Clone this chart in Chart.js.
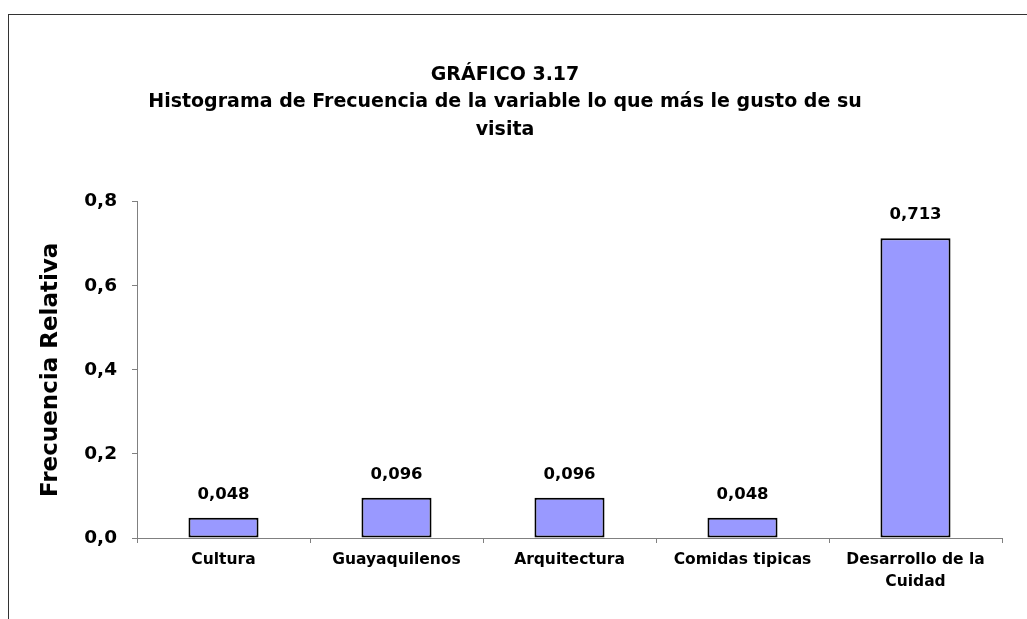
<!DOCTYPE html>
<html>
<head>
<meta charset="utf-8">
<script src="https://cdn.jsdelivr.net/npm/chart.js@4.4.0/dist/chart.umd.min.js"></script>
<style>
  body { margin: 0; background: #fff; }
  #wrap { position: relative; width: 1027px; height: 619px; }
  #frame { position: absolute; left: 8px; top: 14px; width: 1100px; height: 700px; border: 1px solid #333; }
  canvas { position: absolute; left: 0; top: 0; }
</style>
</head>
<body>
<div id="wrap">
  <div id="frame"></div>
  <canvas id="chart" width="1027" height="619"></canvas>
</div>
<script>
var categories = ["Cultura", "Guayaquilenos", "Arquitectura", "Comidas tipicas", ["Desarrollo de la", "Cuidad"]];
var frecuencias = [0.048, 0.096, 0.096, 0.048, 0.713];
var titleLines = ["GRÁFICO 3.17", "Histograma de Frecuencia de la variable lo que más le gusto de su", "visita"];
var yTicks = [0, 0.2, 0.4, 0.6, 0.8];

var FONT = "'DejaVu Sans', 'Liberation Sans', Arial, sans-serif";

function coma(v, d) {
  return v.toFixed(d).replace(".", ",");
}

// draws the value above each bar
var barLabels = {
  id: "barLabels",
  afterDatasetsDraw(chart) {
    var ctx = chart.ctx;
    var meta = chart.getDatasetMeta(0);
    ctx.save();
    ctx.font = "bold 16.5px " + FONT;
    ctx.fillStyle = "#000";
    ctx.textAlign = "center";
    ctx.textBaseline = "alphabetic";
    meta.data.forEach((bar, i) => {
      ctx.fillText(coma(frecuencias[i], 3), bar.x, bar.y - 19);
    });
    ctx.restore();
  },
};

var ctx = document.getElementById("chart").getContext("2d");
new Chart(ctx, {
  type: "bar",
  data: {
    labels: categories,
    datasets: [
      {
        data: frecuencias,
        backgroundColor: "#9999ff",
        borderColor: "#000",
        borderWidth: 2,
        borderSkipped: false,
        barPercentage: 0.405,
        categoryPercentage: 1,
      },
    ],
  },
  options: {
    responsive: false,
    animation: false,
    layout: { padding: { left: 8, right: 25, top: 14, bottom: 0 } },
    plugins: {
      legend: { display: false },
      tooltip: { enabled: false },
      title: {
        display: true,
        text: titleLines,
        color: "#000",
        font: { family: FONT, size: 19, weight: "bold", lineHeight: 1.45 },
        padding: { top: 47, bottom: 58 },
      },
    },
    scales: {
      x: {
        grid: { display: true, drawOnChartArea: false, drawTicks: true, tickLength: 5, color: "#808080", offset: true },
        border: { display: true, color: "#808080", width: 1 },
        ticks: {
          color: "#000",
          maxRotation: 0,
          autoSkip: false,
          padding: 6,
          font: { family: FONT, size: 15.5, weight: "bold", lineHeight: 1.4 },
        },
        afterFit(scale) { scale.height = 81; },
      },
      y: {
        min: 0,
        max: 0.8,
        afterBuildTicks(scale) { scale.ticks = yTicks.map((v) => ({ value: v })); },
        grid: { display: true, drawOnChartArea: false, drawTicks: true, tickLength: 5, color: "#808080" },
        border: { display: true, color: "#808080", width: 1 },
        ticks: {
          color: "#000",
          padding: 15,
          font: { family: FONT, size: 18.5, weight: "bold" },
          callback: (v) => coma(v, 1),
        },
        title: {
          display: true,
          text: "Frecuencia Relativa",
          color: "#000",
          font: { family: FONT, size: 23, weight: "bold" },
          padding: { top: 29, bottom: 0 },
        },
        afterFit(scale) { scale.width = 129; },
      },
    },
  },
  plugins: [barLabels],
});
</script>
</body>
</html>
